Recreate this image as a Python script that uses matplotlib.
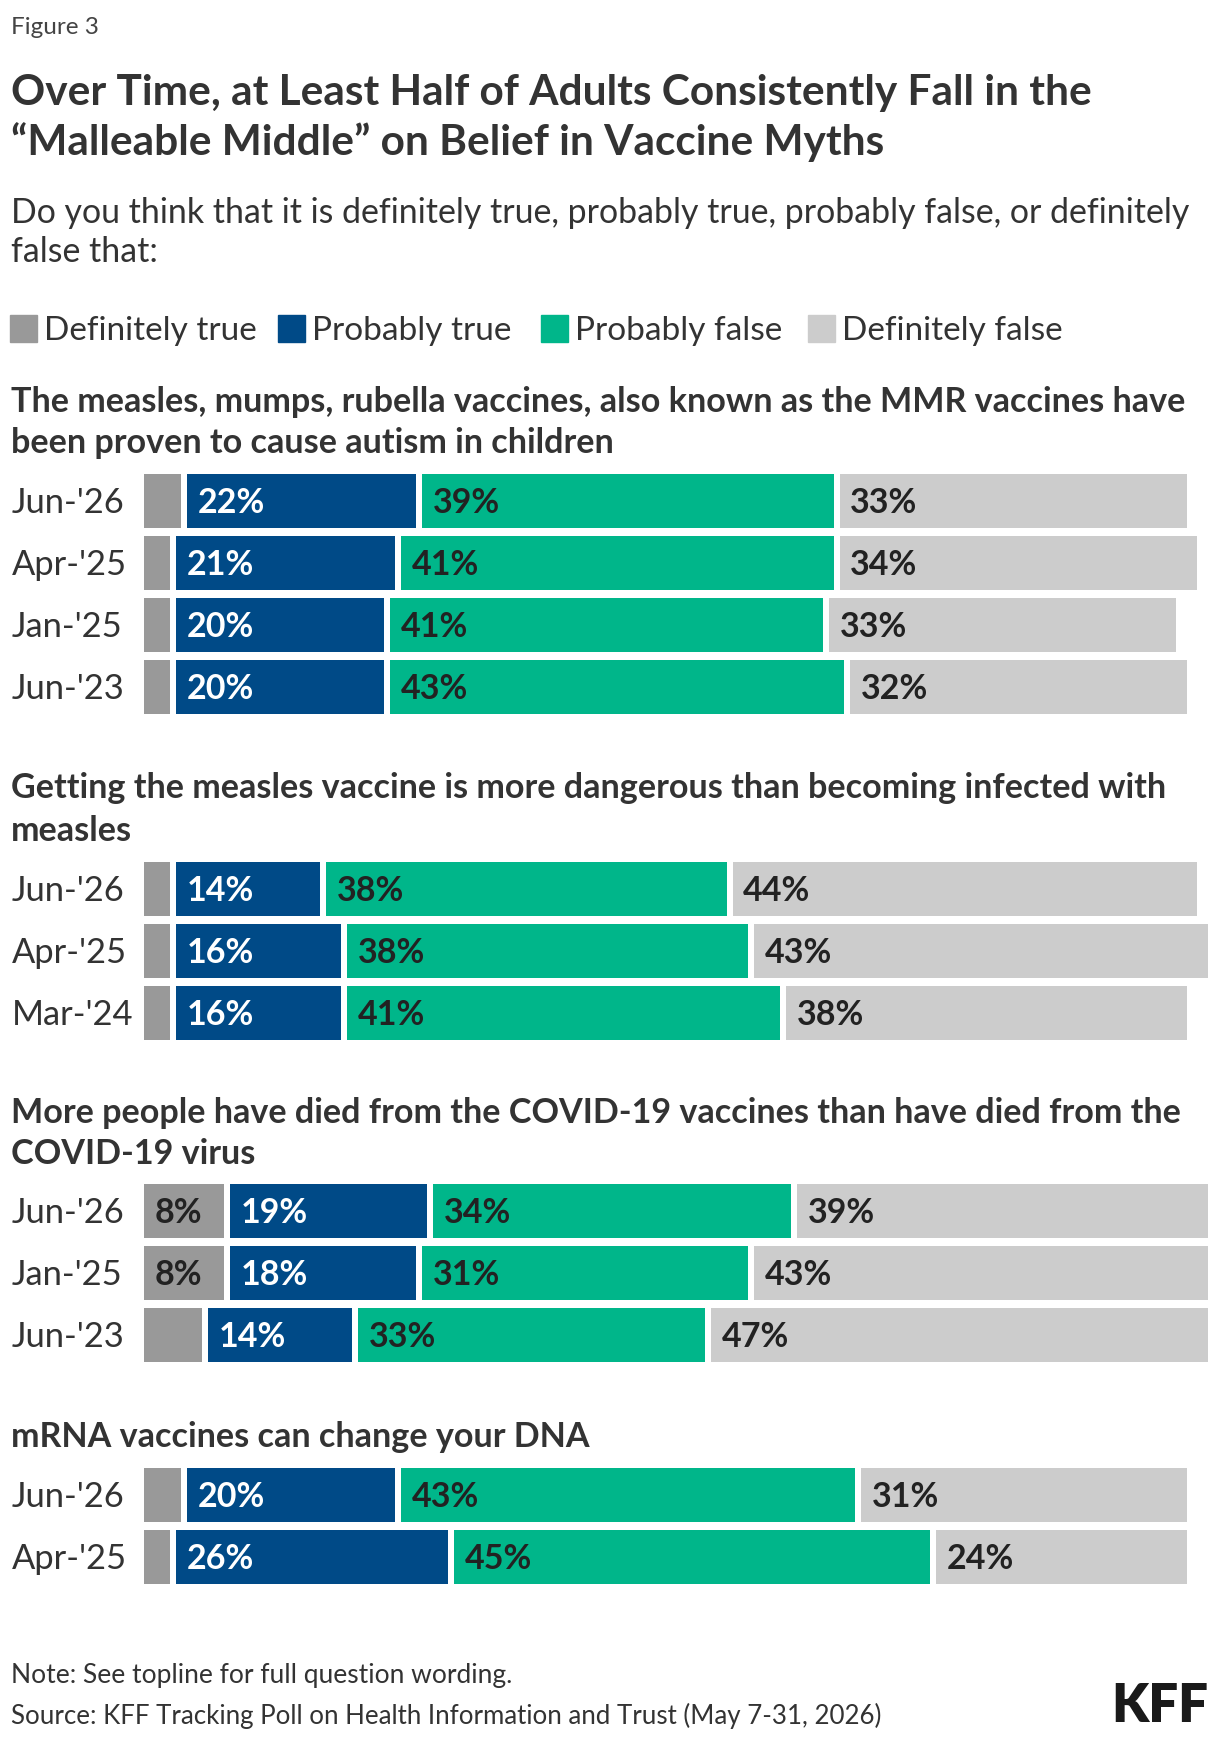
import matplotlib
matplotlib.use("Agg")
import matplotlib.pyplot as plt
from matplotlib import transforms

plt.rcParams['font.family'] = ['Lato', 'DejaVu Sans']

# ---------------- data ----------------
series_names = ["Definitely true", "Probably true", "Probably false", "Definitely false"]
colors = ["#999999", "#004a87", "#00b68a", "#cccccc"]
label_colors = ["#222222", "#ffffff", "#222222", "#222222"]

q1_title = ["The measles, mumps, rubella vaccines, also known as the MMR vaccines have",
            "been proven to cause autism in children"]
q1_dates = ["Jun-'26", "Apr-'25", "Jan-'25", "Jun-'23"]
q1_def_true = [4, 3, 3, 3]
q1_prob_true = [22, 21, 20, 20]
q1_prob_false = [39, 41, 41, 43]
q1_def_false = [33, 34, 33, 32]

q2_title = ["Getting the measles vaccine is more dangerous than becoming infected with",
            "measles"]
q2_dates = ["Jun-'26", "Apr-'25", "Mar-'24"]
q2_def_true = [3, 3, 3]
q2_prob_true = [14, 16, 16]
q2_prob_false = [38, 38, 41]
q2_def_false = [44, 43, 38]

q3_title = ["More people have died from the COVID-19 vaccines than have died from the",
            "COVID-19 virus"]
q3_dates = ["Jun-'26", "Jan-'25", "Jun-'23"]
q3_def_true = [8, 8, 6]
q3_prob_true = [19, 18, 14]
q3_prob_false = [34, 31, 33]
q3_def_false = [39, 43, 47]

q4_title = ["mRNA vaccines can change your DNA"]
q4_dates = ["Jun-'26", "Apr-'25"]
q4_def_true = [4, 3]
q4_prob_true = [20, 26]
q4_prob_false = [43, 45]
q4_def_false = [31, 24]

sections = [
    (q1_title, q1_dates, [q1_def_true, q1_prob_true, q1_prob_false, q1_def_false]),
    (q2_title, q2_dates, [q2_def_true, q2_prob_true, q2_prob_false, q2_def_false]),
    (q3_title, q3_dates, [q3_def_true, q3_prob_true, q3_prob_false, q3_def_false]),
    (q4_title, q4_dates, [q4_def_true, q4_prob_true, q4_prob_false, q4_def_false]),
]

# ---------------- layout (pixels) ----------------
W, H = 1220, 1742
DPI = 100
fig = plt.figure(figsize=(W / DPI, H / DPI), dpi=DPI)
fig.patch.set_facecolor("white")

def fx(px):
    return px / W

def fy(py):
    return 1 - py / H

TXT = "#333333"

fig.text(fx(11), fy(34), "Figure 3", fontsize=17.5, color="#444444", va="baseline")
fig.text(fx(11), fy(105), "Over Time, at Least Half of Adults Consistently Fall in the",
         fontsize=30.5, fontweight="bold", color=TXT, va="baseline")
fig.text(fx(11), fy(155), "\u201cMalleable Middle\u201d on Belief in Vaccine Myths",
         fontsize=30.5, fontweight="bold", color=TXT, va="baseline")
fig.text(fx(11), fy(223), "Do you think that it is definitely true, probably true, probably false, or definitely",
         fontsize=24.4, color=TXT, va="baseline")
fig.text(fx(11), fy(262), "false that:", fontsize=24.4, color=TXT, va="baseline")

# legend
leg_x = [10, 278, 541, 808]
for name, col, lx in zip(series_names, colors, leg_x):
    fig.patches.append(plt.Rectangle((fx(lx), fy(342)), fx(27), 27 / H,
                                     transform=fig.transFigure, color=col, zorder=3))
    fig.text(fx(lx + 34), fy(340), name, fontsize=24, color=TXT, va="baseline")

BAR_LEFT = 144
PX_PER_PCT = 10.70
GAP = 6 / PX_PER_PCT
PITCH = 62
BAR_H = 54

header_baselines = [[412, 453], [798, 841], [1123, 1164], [1447]]
bar_tops = [474, 862, 1184, 1468]

for (title, dates, vals), hb, top in zip(sections, header_baselines, bar_tops):
    for line, b in zip(title, hb):
        fig.text(fx(11), fy(b), line, fontsize=24.6, fontweight="bold", color=TXT, va="baseline")
    n = len(dates)
    ax_top = top - (PITCH - BAR_H) / 2
    ax_h = n * PITCH
    ax = fig.add_axes([fx(BAR_LEFT), fy(ax_top + ax_h), fx(100 * PX_PER_PCT), ax_h / H])
    ax.set_xlim(0, 100)
    ax.set_ylim(n - 0.5, -0.5)
    ax.axis("off")
    lefts = [0.0] * n
    for s in range(4):
        widths = [v - GAP for v in vals[s]]
        ax.barh(range(n), widths, left=lefts, height=BAR_H / PITCH, color=colors[s], linewidth=0)
        for i, v in enumerate(vals[s]):
            if v >= 7:
                ax.text(lefts[i] + 1.0, i + 0.03, f"{v}%", fontsize=24.5, fontweight="bold",
                        color=label_colors[s], va="center", ha="left")
        lefts = [l + v for l, v in zip(lefts, vals[s])]
    tr = transforms.blended_transform_factory(fig.transFigure, ax.transData)
    for i, d in enumerate(dates):
        ax.text(fx(12), i + 0.03, d, transform=tr, fontsize=24.8, color=TXT, va="center", ha="left")

fig.text(fx(11), fy(1683), "Note: See topline for full question wording.", fontsize=19, color=TXT, va="baseline")
fig.text(fx(11), fy(1724), "Source: KFF Tracking Poll on Health Information and Trust (May 7-31, 2026)",
         fontsize=18.6, color=TXT, va="baseline")
fig.text(fx(1208), fy(1722), "KFF", fontsize=38, fontweight="heavy", color="#1a1a1a",
         va="baseline", ha="right")

fig.savefig("out.png", dpi=DPI, facecolor="white")
